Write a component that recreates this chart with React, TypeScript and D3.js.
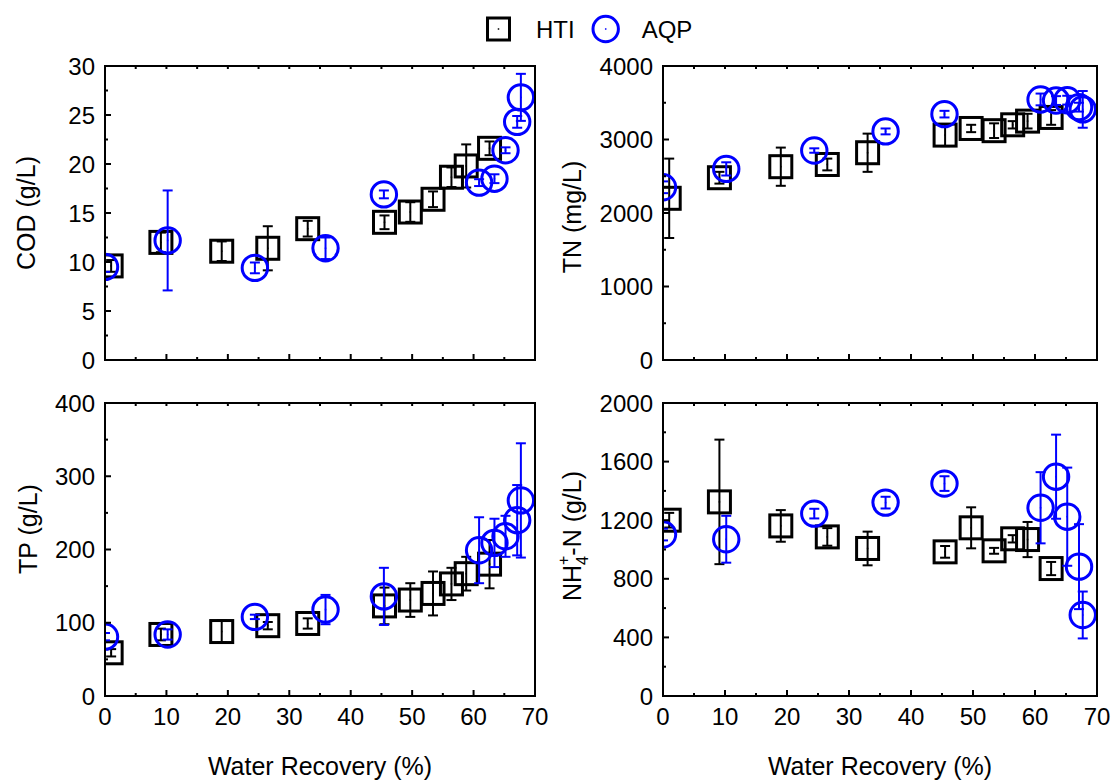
import React from 'react';
import * as d3 from 'd3';

// recovery (%) where each sample was taken
const htiX = [1.0, 9.1, 19.0, 26.5, 33.0, 45.5, 49.7, 53.4, 56.4, 58.8, 62.6];
const aqpX = [0, 10.2, 24.4, 35.9, 45.4, 60.9, 63.4, 65.2, 67.1, 67.7];

// COD (g/L)
const codHti = [9.6, 12.0, 11.1, 11.4, 13.4, 14.05, 15.1, 16.4, 18.65, 19.8, 21.6];
const codHtiErr = [0.6, 1.0, 1.0, 2.25, 0.8, 0.7, 1.0, 0.8, 1.0, 2.2, 0.7];
const codAqp = [9.5, 12.2, 9.4, 11.4, 16.9, 18.1, 18.5, 21.4, 24.3, 26.8];
const codAqpErr = [0.5, 5.1, 0.55, 1.1, 0.4, 0.35, 0.45, 0.3, 0.6, 2.4];

// TN (mg/L)
const tnHti = [2200, 2480, 2630, 2660, 2820, 3060, 3150, 3120, 3200, 3250, 3300];
const tnHtiErr = [540, 80, 260, 80, 260, 150, 50, 100, 50, 100, 100];
const tnAqp = [2350, 2600, 2850, 3110, 3345, 3545, 3530, 3535, 3440, 3410];
const tnAqpErr = [80, 90, 30, 40, 45, 80, 60, 60, 60, 250];

// TP
const tpHti = [59, 84, 88, 96, 99, 123, 131, 140, 153, 167, 180];
const tpHtiErr = [5, 8, 15, 5, 7, 25, 23, 30, 22, 23, 33];
const tpAqp = [81, 84, 108, 118, 136, 199, 209, 218, 240, 267];
const tpAqpErr = [5, 7, 3, 20, 39, 45, 33, 28, 48, 78];

// NH4+-N
const nhHti = [1200, 1325, 1161, 1086, 1007, 984, 1148, 991, 1073, 1068, 870];
const nhHtiErr = [50, 425, 108, 60, 115, 40, 140, 20, 25, 120, 45];
const nhAqp = [1102, 1070, 1245, 1320, 1450, 1285, 1497, 1224, 883, 553];
const nhAqpErr = [40, 160, 33, 40, 50, 243, 287, 335, 290, 160];

const xTicks = [0, 10, 20, 30, 40, 50, 60, 70];
const xTitle = 'Water Recovery (%)';
const legendLabels = ['HTI', 'AQP'];

const FONT = '"Liberation Sans", Arial, Helvetica, sans-serif';
const BLUE = '#0000ff';
const BLACK = '#000000';

const Square = ({ x, y, color }) => (
  <g>
    <rect x={x - 11} y={y - 11} width={22} height={22} fill="none" stroke={color} strokeWidth={3} />
    <rect x={x - 0.75} y={y - 0.75} width={1.5} height={1.5} fill={color} />
  </g>
);

const Circle = ({ x, y, color }) => (
  <g>
    <circle cx={x} cy={y} r={12.7} fill="none" stroke={color} strokeWidth={3} />
    <rect x={x - 0.75} y={y - 0.75} width={1.5} height={1.5} fill={color} />
  </g>
);

const Panel = ({ id, left, right, top, bottom, yMax, yStep, hti, htiErr, aqp, aqpErr, title, titleX, titleY, showX }) => {
  const xScale = d3.scaleLinear().domain([0, 70]).range([left, right]);
  const yScale = d3.scaleLinear().domain([0, yMax]).range([bottom, top]);

  const yMinor = d3.range(0, yMax + 1e-6, yStep / 2);
  const xMinor = d3.range(0, 70.001, 5);

  const errBars = (xs, ys, es, color) =>
    ys.map((v, i) => {
      const cx = xScale(xs[i]);
      const y1 = yScale(v + es[i]);
      const y2 = yScale(v - es[i]);
      return (
        <g key={i} stroke={color} strokeWidth={2}>
          <line x1={cx} x2={cx} y1={y1} y2={y2} />
          <line x1={cx - 5} x2={cx + 5} y1={y1} y2={y1} />
          <line x1={cx - 5} x2={cx + 5} y1={y2} y2={y2} />
        </g>
      );
    });

  return (
    <g>
      <clipPath id={`clip-${id}`}>
        <rect x={left} y={top} width={right - left} height={bottom - top} />
      </clipPath>
      <g clipPath={`url(#clip-${id})`}>
        {errBars(htiX, hti, htiErr, BLACK)}
        {hti.map((v, i) => <Square key={i} x={xScale(htiX[i])} y={yScale(v)} color={BLACK} />)}
        {errBars(aqpX, aqp, aqpErr, BLUE)}
        {aqp.map((v, i) => <Circle key={i} x={xScale(aqpX[i])} y={yScale(v)} color={BLUE} />)}
      </g>

      {/* frame */}
      <rect x={left} y={top} width={right - left} height={bottom - top} fill="none" stroke={BLACK} strokeWidth={2} />

      {/* y ticks */}
      {yMinor.map((t, i) => {
        const major = Math.abs(t / yStep - Math.round(t / yStep)) < 1e-6;
        return (
          <line key={i} x1={left} x2={left + (major ? 6 : 3)} y1={yScale(t)} y2={yScale(t)} stroke={BLACK} strokeWidth={2} />
        );
      })}
      {d3.range(0, yMax + 1e-6, yStep).map((t, i) => (
        <text key={i} x={left - 10} y={yScale(t)} dy="0.36em" textAnchor="end" fontSize={24}>
          {t}
        </text>
      ))}

      {/* x ticks, bottom and top */}
      {xMinor.map((t, i) => {
        const major = t % 10 === 0;
        return (
          <g key={i} stroke={BLACK} strokeWidth={2}>
            <line x1={xScale(t)} x2={xScale(t)} y1={bottom} y2={bottom - (major ? 6 : 3)} />
            <line x1={xScale(t)} x2={xScale(t)} y1={top} y2={top + 3} />
          </g>
        );
      })}
      {showX &&
        xTicks.map((t, i) => (
          <text key={i} x={xScale(t)} y={bottom + 29} textAnchor="middle" fontSize={24}>
            {t}
          </text>
        ))}
      {showX && (
        <text x={(left + right) / 2} y={775} textAnchor="middle" fontSize={25}>
          {xTitle}
        </text>
      )}

      <text transform={`translate(${titleX},${titleY}) rotate(-90)`} textAnchor="middle" fontSize={25}>
        {title}
      </text>
    </g>
  );
};

export default function App() {
  const L = { left: 105, right: 535 };
  const R = { left: 663, right: 1097 };
  const T = { top: 66, bottom: 360 };
  const B = { top: 403, bottom: 696 };

  const nhTitle = (
    <>
      NH
      <tspan fontSize={16} dy={7}>4</tspan>
      <tspan fontSize={16} dx={-9} dy={-19}>+</tspan>
      <tspan dy={12}>-N (g/L)</tspan>
    </>
  );

  return (
    <svg width={1112} height={780} style={{ position: 'absolute', left: 0, top: 0, background: '#fff' }} fontFamily={FONT}>
      <rect width={1112} height={780} fill="#fff" />

      {/* legend */}
      <g>
        <Square x={498.5} y={29} color={BLACK} />
        <text x={536} y={38} fontSize={24}>{legendLabels[0]}</text>
        <Circle x={605.7} y={29} color={BLUE} />
        <text x={641.7} y={38} fontSize={24}>{legendLabels[1]}</text>
      </g>

      <Panel id="cod" {...L} {...T} yMax={30} yStep={5} hti={codHti} htiErr={codHtiErr} aqp={codAqp} aqpErr={codAqpErr}
        title="COD (g/L)" titleX={35} titleY={213} showX={false} />
      <Panel id="tn" {...R} {...T} yMax={4000} yStep={1000} hti={tnHti} htiErr={tnHtiErr} aqp={tnAqp} aqpErr={tnAqpErr}
        title="TN (mg/L)" titleX={581} titleY={217} showX={false} />
      <Panel id="tp" {...L} {...B} yMax={400} yStep={100} hti={tpHti} htiErr={tpHtiErr} aqp={tpAqp} aqpErr={tpAqpErr}
        title="TP (g/L)" titleX={37} titleY={529} showX={true} />
      <Panel id="nh" {...R} {...B} yMax={2000} yStep={400} hti={nhHti} htiErr={nhHtiErr} aqp={nhAqp} aqpErr={nhAqpErr}
        title={nhTitle} titleX={581} titleY={536} showX={true} />
    </svg>
  );
}
